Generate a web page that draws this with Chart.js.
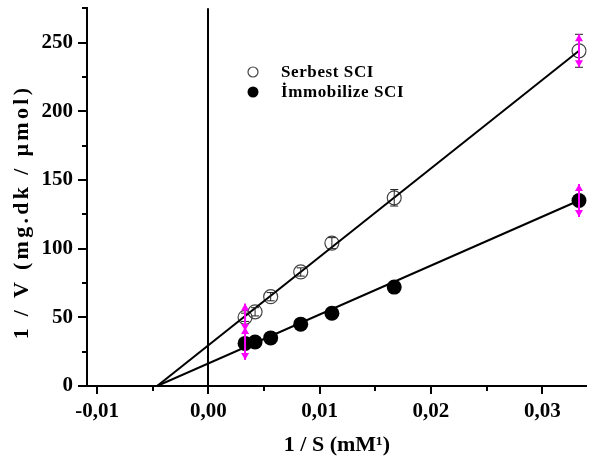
<!DOCTYPE html>
<html>
<head>
<meta charset="utf-8">
<script src="https://cdn.jsdelivr.net/npm/chart.js@4/dist/chart.umd.min.js"></script>
<style>
  html, body { margin: 0; padding: 0; background: #fff; }
  #wrap { width: 595px; height: 463px; }
</style>
</head>
<body>
<div id="wrap"><canvas id="c"></canvas></div>
<script>
// veriler
const invS = [0.0033, 0.0042, 0.0056, 0.0083, 0.0111, 0.0167, 0.0333];
const serbestV = [50, 54, 65, 83, 104, 137, 244];
const serbestErr = [3, 3, 3, 3, 4, 6, 12];
const immobV = [31, 32, 35, 45, 53, 72, 135];

// doğrular (uç noktalar)
const serbestFitX = [-0.0046, 0.0333];
const serbestFitY = [0, 244];
const immobFitX = [-0.0046, 0.0333];
const immobFitY = [0, 135];

// pembe oklar
const pinkX = [0.0033, 0.0033, 0.0333, 0.0333];
const pinkLo = [40, 19, 232, 123];
const pinkHi = [60, 43, 256, 147];

const xTicks = [-0.01, 0, 0.01, 0.02, 0.03];
const xMinor = [-0.005, 0.005, 0.015, 0.025];
const yTicks = [0, 50, 100, 150, 200, 250];
const yMinor = [25, 75, 125, 175, 225, 275];

const legendLabels = ['Serbest SCI', 'İmmobilize SCI'];
const yTitle = '1 / V (mg.dk / µmol)';

const FONT = 'Liberation Serif';

function pts(xs, ys) {
  return xs.map((x, i) => ({ x: x, y: ys[i] }));
}

const decor = {
  id: 'decor',
  beforeDatasetsDraw(chart) {
    const { ctx, chartArea: a, scales: { x, y } } = chart;
    ctx.save();
    ctx.strokeStyle = '#000';
    ctx.lineWidth = 2;
    // x = 0 dikey çizgi
    const x0 = Math.round(x.getPixelForValue(0));
    ctx.beginPath();
    ctx.moveTo(x0, a.top);
    ctx.lineTo(x0, a.bottom);
    ctx.stroke();

    // tick çizgileri
    ctx.beginPath();
    xTicks.forEach(v => {
      const px = Math.round(x.getPixelForValue(v));
      ctx.moveTo(px, a.bottom); ctx.lineTo(px, a.bottom + 8);
    });
    xMinor.forEach(v => {
      const px = Math.round(x.getPixelForValue(v));
      ctx.moveTo(px, a.bottom); ctx.lineTo(px, a.bottom + 5);
    });
    yTicks.forEach(v => {
      const py = Math.round(y.getPixelForValue(v));
      ctx.moveTo(a.left, py); ctx.lineTo(a.left - 9, py);
    });
    yMinor.forEach(v => {
      const py = Math.round(y.getPixelForValue(v));
      ctx.moveTo(a.left, py); ctx.lineTo(a.left - 5, py);
    });
    ctx.stroke();

    // y ekseni başlığı
    ctx.fillStyle = '#000';
    ctx.font = 'bold 22px "' + FONT + '"';
    ctx.letterSpacing = '3.3px';
    ctx.textAlign = 'center';
    ctx.textBaseline = 'middle';
    ctx.translate(22, 212);
    ctx.rotate(-Math.PI / 2);
    ctx.fillText(yTitle, 0, 0);
    ctx.restore();
  },
  afterDatasetsDraw(chart) {
    const { ctx, scales: { x, y } } = chart;
    ctx.save();

    // hata çubukları (serbest)
    ctx.strokeStyle = '#222';
    ctx.lineWidth = 1;
    ctx.beginPath();
    invS.forEach((v, i) => {
      const px = x.getPixelForValue(v);
      const hi = y.getPixelForValue(serbestV[i] + serbestErr[i]);
      const lo = y.getPixelForValue(serbestV[i] - serbestErr[i]);
      ctx.moveTo(px, hi); ctx.lineTo(px, lo);
      ctx.moveTo(px - 4, hi); ctx.lineTo(px + 4, hi);
      ctx.moveTo(px - 4, lo); ctx.lineTo(px + 4, lo);
    });
    ctx.stroke();

    // pembe oklar
    ctx.strokeStyle = '#ff00ff';
    ctx.fillStyle = '#ff00ff';
    ctx.lineWidth = 2;
    pinkX.forEach((v, i) => {
      const px = x.getPixelForValue(v);
      const top = y.getPixelForValue(pinkHi[i]);
      const bot = y.getPixelForValue(pinkLo[i]);
      ctx.beginPath();
      ctx.moveTo(px, top); ctx.lineTo(px, bot);
      ctx.stroke();
      ctx.beginPath();
      ctx.moveTo(px, top); ctx.lineTo(px - 4, top + 7); ctx.lineTo(px + 4, top + 7); ctx.closePath();
      ctx.moveTo(px, bot); ctx.lineTo(px - 4, bot - 7); ctx.lineTo(px + 4, bot - 7); ctx.closePath();
      ctx.fill();
    });

    // lejant
    const lx = 253, ly = [72, 92];
    ctx.lineWidth = 1.2;
    ctx.strokeStyle = '#444';
    ctx.beginPath(); ctx.arc(lx, ly[0], 5, 0, Math.PI * 2); ctx.stroke();
    ctx.fillStyle = '#000';
    ctx.beginPath(); ctx.arc(lx, ly[1], 5.5, 0, Math.PI * 2); ctx.fill();
    ctx.font = 'bold 17px "' + FONT + '"';
    ctx.letterSpacing = '0.6px';
    ctx.textAlign = 'left';
    ctx.textBaseline = 'middle';
    legendLabels.forEach((t, i) => ctx.fillText(t, 281, ly[i] + 1));
    ctx.restore();
  }
};

new Chart(document.getElementById('c'), {
  type: 'scatter',
  data: {
    datasets: [
      {
        label: 'Serbest fit',
        data: pts(serbestFitX, serbestFitY),
        showLine: true,
        borderColor: '#000',
        borderWidth: 2,
        pointRadius: 0
      },
      {
        label: 'İmmobilize fit',
        data: pts(immobFitX, immobFitY),
        showLine: true,
        borderColor: '#000',
        borderWidth: 2,
        pointRadius: 0
      },
      {
        label: legendLabels[0],
        data: pts(invS, serbestV),
        pointRadius: 7,
        pointBorderWidth: 1.2,
        pointBorderColor: '#444',
        pointBackgroundColor: 'rgba(0,0,0,0)'
      },
      {
        label: legendLabels[1],
        data: pts(invS, immobV),
        pointRadius: 7.5,
        pointBorderWidth: 0,
        pointBackgroundColor: '#000'
      }
    ]
  },
  options: {
    responsive: true,
    maintainAspectRatio: false,
    animation: false,
    layout: { padding: { top: 6, right: 0, left: 0, bottom: 0 } },
    plugins: {
      legend: { display: false },
      tooltip: { enabled: false }
    },
    scales: {
      x: {
        type: 'linear',
        min: -0.0109,
        max: 0.034,
        grid: { display: false, drawTicks: false },
        border: { color: '#000', width: 2 },
        afterBuildTicks: s => { s.ticks = xTicks.map(v => ({ value: v })); },
        afterFit: s => { s.height = 77; s.paddingLeft = 0; s.paddingRight = 0; },
        ticks: {
          padding: 13,
          color: '#000',
          maxRotation: 0,
          font: { family: FONT, size: 21, weight: 'bold' },
          callback: v => v.toFixed(2).replace('.', ',')
        },
        title: {
          display: true,
          text: '1 / S (mM¹)',
          color: '#000',
          padding: { top: 0, bottom: 4 },
          font: { family: FONT, size: 22, weight: 'bold' }
        }
      },
      y: {
        min: 0,
        max: 275,
        grid: { display: false, drawTicks: false },
        border: { color: '#000', width: 2 },
        afterBuildTicks: s => { s.ticks = yTicks.map(v => ({ value: v })); },
        afterFit: s => { s.width = 87; s.paddingTop = 0; s.paddingBottom = 0; },
        ticks: {
          padding: 14,
          color: '#000',
          font: { family: FONT, size: 21, weight: 'bold' },
          callback: v => String(v)
        }
      }
    }
  },
  plugins: [decor]
});
</script>
</body>
</html>
